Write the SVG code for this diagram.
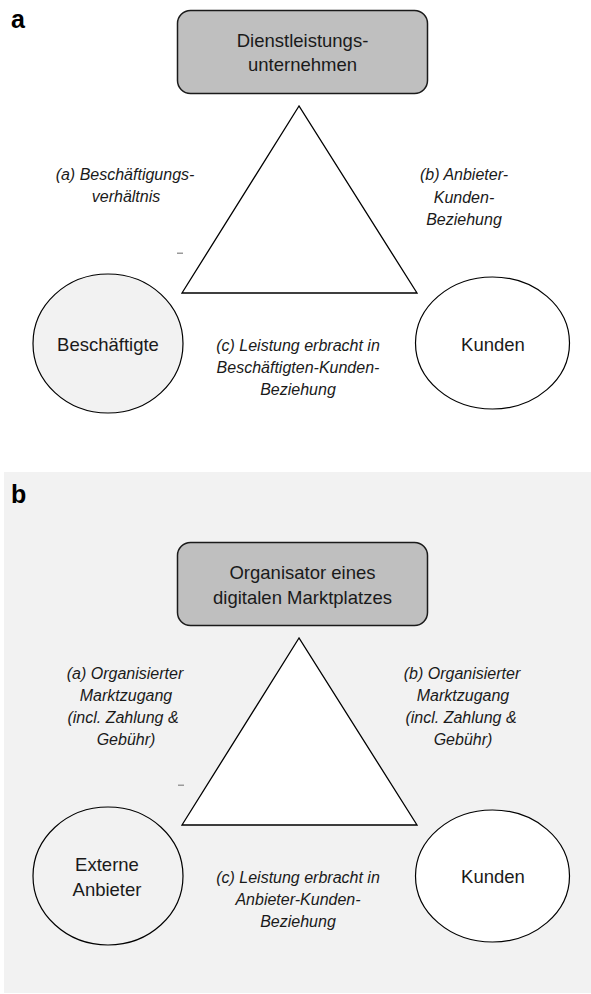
<svg xmlns="http://www.w3.org/2000/svg" width="591" height="994" viewBox="0 0 591 994">
  <style>
    .box { fill: #bfbfbf; stroke: #1a1a1a; stroke-width: 1.5; }
    .tri { fill: #ffffff; stroke: #000000; stroke-width: 1.3; }
    .circ { stroke: #000000; stroke-width: 1.2; }
    .node { font-family: "Liberation Sans", Arial, sans-serif; font-size: 18.5px; fill: #1a1a1a; text-anchor: middle; }
    .lbl { font-family: "Liberation Sans", Arial, sans-serif; font-size: 16px; font-style: italic; fill: #1a1a1a; text-anchor: middle; }
    .panel { font-family: "Liberation Sans", Arial, sans-serif; font-size: 25px; font-weight: bold; fill: #000000; }
    .dash { fill: #9a9a9a; }
  </style>
  <rect x="0" y="0" width="591" height="994" fill="#ffffff"/>

  <!-- Panel a -->
  <g id="panel-a">
    <text class="panel" x="11" y="28">a</text>

    <g id="a-relations">
      <polygon class="tri" points="299,106 182,293 417,293"/>
      <rect class="dash" x="177" y="252.5" width="6" height="1.5"/>
      <text class="lbl" x="125" y="180">(a) Beschäftigungs-</text>
      <text class="lbl" x="126" y="202">verhältnis</text>
      <text class="lbl" x="464" y="180">(b) Anbieter-</text>
      <text class="lbl" x="464" y="203">Kunden-</text>
      <text class="lbl" x="464" y="225">Beziehung</text>
      <text class="lbl" x="298" y="351">(c) Leistung erbracht in</text>
      <text class="lbl" x="298" y="373">Beschäftigten-Kunden-</text>
      <text class="lbl" x="298" y="395">Beziehung</text>
    </g>

    <g id="a-unternehmen">
      <rect class="box" x="177.5" y="10.5" width="250" height="83" rx="13" ry="13"/>
      <text class="node" x="302.5" y="47">Dienstleistungs-</text>
      <text class="node" x="302.5" y="71">unternehmen</text>
    </g>

    <g id="a-beschaeftigte">
      <ellipse class="circ" cx="108" cy="343.5" rx="75" ry="69.5" fill="#f2f2f2"/>
      <text class="node" x="108" y="351">Beschäftigte</text>
    </g>

    <g id="a-kunden">
      <ellipse class="circ" cx="492.5" cy="343" rx="77" ry="66" fill="#ffffff"/>
      <text class="node" x="493" y="351">Kunden</text>
    </g>
  </g>

  <!-- Panel b -->
  <g id="panel-b">
    <rect x="4" y="472" width="587" height="521" fill="#f2f2f2"/>
    <text class="panel" x="11" y="503">b</text>

    <g id="b-relations">
      <polygon class="tri" points="299,638 182,825 417,825"/>
      <rect class="dash" x="178" y="784.5" width="6" height="1.5"/>
      <text class="lbl" x="125" y="679">(a) Organisierter</text>
      <text class="lbl" x="126" y="701">Marktzugang</text>
      <text class="lbl" x="123" y="723">(incl. Zahlung &amp;</text>
      <text class="lbl" x="126" y="745">Gebühr)</text>
      <text class="lbl" x="462" y="679">(b) Organisierter</text>
      <text class="lbl" x="463" y="701">Marktzugang</text>
      <text class="lbl" x="461" y="723">(incl. Zahlung &amp;</text>
      <text class="lbl" x="463" y="745">Gebühr)</text>
      <text class="lbl" x="298" y="883">(c) Leistung erbracht in</text>
      <text class="lbl" x="298" y="905">Anbieter-Kunden-</text>
      <text class="lbl" x="298" y="927">Beziehung</text>
    </g>

    <g id="b-organisator">
      <rect class="box" x="177.5" y="542.5" width="250" height="83" rx="13" ry="13"/>
      <text class="node" x="302.5" y="579">Organisator eines</text>
      <text class="node" x="302.5" y="604">digitalen Marktplatzes</text>
    </g>

    <g id="b-anbieter">
      <ellipse class="circ" cx="108" cy="876" rx="75" ry="69" fill="#f2f2f2"/>
      <text class="node" x="107" y="871">Externe</text>
      <text class="node" x="107" y="896">Anbieter</text>
    </g>

    <g id="b-kunden">
      <ellipse class="circ" cx="492.5" cy="876" rx="77" ry="66" fill="#ffffff"/>
      <text class="node" x="493" y="883">Kunden</text>
    </g>
  </g>

  <g id="connectors"/>
</svg>
